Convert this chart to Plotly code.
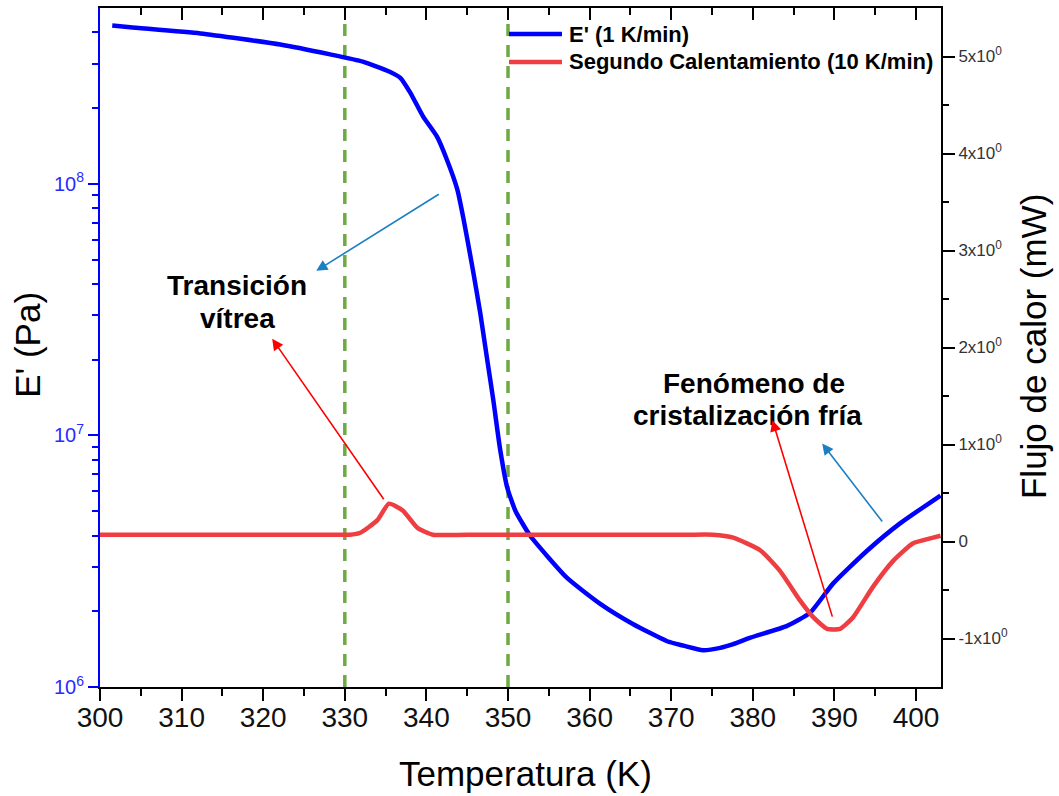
import math
import plotly.graph_objects as go

# Storage modulus E' (1 K/min) vs temperature
temp_e = [301.5, 303.7, 312.3, 322.1, 328.2, 332.2, 335.5, 336.8, 338.0, 339.6,
          341.3, 342.5, 343.8, 344.5, 345.7, 346.6, 347.4, 348.2, 349.0, 349.9,
          350.9, 352.7, 357.2, 361.3, 365.3, 369.5, 371.5, 373.9, 376.0, 377.6,
          379.7, 384.2, 387.0, 389.8, 394.0, 398.0, 403.0]
storage_modulus = [4.26e8, 4.19e8, 3.96e8, 3.58e8, 3.27e8, 3.06e8, 2.79e8, 2.64e8, 2.31e8, 1.85e8,
                   1.54e8, 1.25e8, 9.47e7, 7.39e7, 4.54e7, 3.06e7, 2.05e7, 1.38e7, 8.95e6, 6.21e6,
                   5.02e6, 4.00e6, 2.72e6, 2.14e6, 1.78e6, 1.52e6, 1.46e6, 1.40e6, 1.43e6, 1.48e6,
                   1.57e6, 1.75e6, 1.97e6, 2.57e6, 3.48e6, 4.46e6, 5.77e6]

# DSC heat flow, second heating (10 K/min)
temp_dsc = [300.0, 315.0, 329.0, 330.6, 331.9, 334.0, 335.4, 337.1, 338.9, 340.8,
            345.0, 360.0, 372.0, 375.1, 377.6, 380.9, 383.3, 385.8, 387.4, 389.1,
            390.7, 392.3, 394.7, 397.2, 399.6, 402.1, 403.0]
heat_flow = [0.07, 0.07, 0.07, 0.07, 0.09, 0.22, 0.39, 0.32, 0.14, 0.07,
             0.07, 0.07, 0.07, 0.07, 0.04, -0.09, -0.30, -0.61, -0.78, -0.90,
             -0.90, -0.78, -0.47, -0.20, -0.02, 0.04, 0.06]

# Reference temperatures marked with dashed lines
marker_temps = [330, 350]

# Axis ticks
x_range = [300, 403.06]
e_range = [1e6, 5e8]
e_major = [1e6, 1e7, 1e8]
e_major_text = ["10<sup>6</sup>", "10<sup>7</sup>", "10<sup>8</sup>"]
e_minor = [m * 10 ** p for p in (6, 7) for m in range(2, 10)] + [2e8, 3e8, 4e8]
hf_range = [-1.5, 5.5]
hf_major = [-1, 0, 1, 2, 3, 4, 5]
hf_major_text = ["-1x10<sup>0</sup>", "0", "1x10<sup>0</sup>", "2x10<sup>0</sup>",
                 "3x10<sup>0</sup>", "4x10<sup>0</sup>", "5x10<sup>0</sup>"]
hf_minor = [-0.5, 0.5, 1.5, 2.5, 3.5, 4.5]

FONT = "Arial, Liberation Sans, sans-serif"
BLUE = "#0000ff"
RED = "#ef3e42"
GREEN = "#6eaa44"
ARROW_BLUE = "#1b7fc4"

fig = go.Figure()
fig.add_trace(go.Scatter(
    x=temp_e, y=storage_modulus, name="E' (1 K/min)", mode="lines",
    line=dict(color=BLUE, width=4.5, shape="spline", smoothing=0.5),
    xaxis="x", yaxis="y", showlegend=False))
fig.add_trace(go.Scatter(
    x=temp_dsc, y=heat_flow, name="Segundo Calentamiento (10 K/min)", mode="lines",
    line=dict(color=RED, width=4.5, shape="spline", smoothing=0.5),
    xaxis="x2", yaxis="y2", showlegend=False))

# Dashed reference lines
for t in marker_temps:
    fig.add_shape(type="line", xref="x", yref="paper", x0=t, x1=t, y0=0, y1=0.985,
                  line=dict(color=GREEN, width=3.5, dash="12px,9px"), layer="below")

# Hand-placed legend
legend_items = [("E' (1 K/min)", BLUE, 0.9617), ("Segundo Calentamiento (10 K/min)", RED, 0.9205)]
for label, color, ypos in legend_items:
    fig.add_shape(type="line", xref="paper", yref="paper", x0=0.4863, x1=0.5493,
                  y0=ypos, y1=ypos, line=dict(color=color, width=4.5))
    fig.add_annotation(xref="paper", yref="paper", x=0.5553, y=ypos, text=f"<b>{label}</b>",
                       showarrow=False, xanchor="left", yanchor="middle",
                       font=dict(family=FONT, size=22, color="black"))

# Labels for the thermal events
event_labels = [("Transición", 316.8, 2.64), ("vítrea", 316.8, 2.30),
                ("Fenómeno de", 380.2, 1.63), ("cristalización fría", 379.4, 1.30)]
for txt, tx, ty in event_labels:
    fig.add_annotation(xref="x", yref="y2", x=tx, y=ty, text=f"<b>{txt}</b>",
                       showarrow=False, xanchor="center", yanchor="middle",
                       font=dict(family=FONT, size=28, color="black"))

# Arrows: (head x, head y, tail x, tail y, colour)
arrows = [(326.5, 2.79, 341.7, 3.59, ARROW_BLUE),
          (321.1, 2.09, 334.9, 0.42, "#ff0000"),
          (382.4, 1.25, 389.8, -0.79, "#ff0000"),
          (388.5, 1.01, 396.0, 0.19, ARROW_BLUE)]
for hx, hy, tx, ty, col in arrows:
    fig.add_annotation(xref="x", yref="y2", x=hx, y=hy, axref="x", ayref="y2", ax=tx, ay=ty,
                       text="", showarrow=True, arrowhead=2, arrowsize=1.4, arrowwidth=1.6,
                       arrowcolor=col, standoff=0, startstandoff=0)

# Axis titles
title_font = dict(family=FONT, size=35, color="black")
fig.add_annotation(xref="paper", yref="paper", x=-0.0856, y=0.504, text="E' (Pa)",
                   textangle=-90, showarrow=False, xanchor="center", yanchor="middle",
                   font=title_font)
fig.add_annotation(xref="paper", yref="paper", x=0.5054, y=-0.1267, text="Temperatura (K)",
                   showarrow=False, xanchor="center", yanchor="middle", font=title_font)
fig.add_annotation(xref="paper", yref="paper", x=1.1094, y=0.5007, text="Flujo de calor (mW)",
                   textangle=-90, showarrow=False, xanchor="center", yanchor="middle",
                   font=title_font)

fig.update_layout(
    width=1059, height=796, autosize=False,
    margin=dict(l=100, r=118, t=8, b=109),
    paper_bgcolor="white", plot_bgcolor="white",
    font=dict(family=FONT),
    showlegend=False,
    xaxis=dict(
        range=x_range, tick0=300, dtick=10, ticks="outside", ticklen=12, tickwidth=2,
        tickcolor="black", showline=True, linecolor="black", linewidth=2,
        showgrid=False, zeroline=False, anchor="y", ticklabelstandoff=-8,
        tickfont=dict(family=FONT, size=28, color="#111111"),
        minor=dict(dtick=5, ticks="outside", ticklen=7, tickwidth=2, tickcolor="black"),
    ),
    xaxis2=dict(
        range=x_range, matches="x", overlaying="x", side="top", anchor="y",
        tick0=300, dtick=10, ticks="inside", ticklen=12, tickwidth=2, tickcolor="black",
        showticklabels=False, showline=True, linecolor="black", linewidth=2,
        showgrid=False, zeroline=False,
        minor=dict(dtick=5, ticks="inside", ticklen=7, tickwidth=2, tickcolor="black"),
    ),
    yaxis=dict(
        type="log", range=[math.log10(e_range[0]), math.log10(e_range[1])],
        tickmode="array", tickvals=e_major, ticktext=e_major_text,
        ticks="outside", ticklen=10, tickwidth=2, tickcolor=BLUE,
        showline=True, linecolor=BLUE, linewidth=2, showgrid=False, zeroline=False,
        tickfont=dict(family=FONT, size=20, color="#2a2aff"),
        minor=dict(tickmode="array", tickvals=e_minor, ticks="outside", ticklen=6,
                   tickwidth=2, tickcolor=BLUE),
    ),
    yaxis2=dict(
        overlaying="y", side="right", anchor="x", range=hf_range,
        tickmode="array", tickvals=hf_major, ticktext=hf_major_text,
        ticks="outside", ticklen=12, tickwidth=2, tickcolor="black",
        showline=True, linecolor="black", linewidth=2, showgrid=False, zeroline=False,
        tickfont=dict(family=FONT, size=17, color="#333333"),
        minor=dict(tickmode="array", tickvals=hf_minor, ticks="outside", ticklen=6,
                   tickwidth=2, tickcolor="black"),
    ),
)

fig.write_html("out.html")
